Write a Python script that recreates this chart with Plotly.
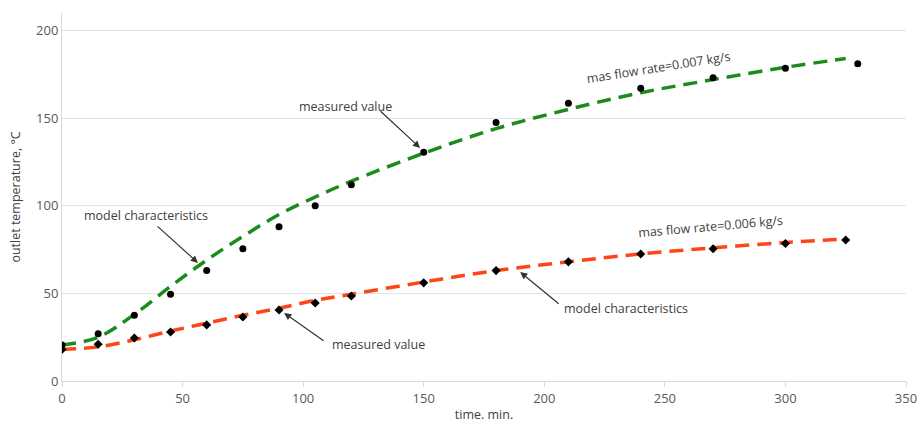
import plotly.graph_objects as go

# measured data, mass flow 0.007 kg/s
t_meas_007 = [0, 15, 30, 45, 60, 75, 90, 105, 120, 150, 180, 210, 240, 270, 300, 330]
T_meas_007 = [20.5, 27, 37.5, 49.5, 63, 75.5, 88, 100, 112, 130.5, 147.5, 158.5, 167, 173, 178.5, 181]

# model characteristic, mass flow 0.007 kg/s
t_model_007 = [0, 15, 30, 45, 60, 75, 90, 105, 120, 150, 180, 210, 240, 270, 300, 325]
T_model_007 = [20.5, 25, 38, 54, 69, 82.5, 95, 105, 114, 130, 144, 155, 164.5, 172, 179, 184]

# measured data, mass flow 0.006 kg/s
t_meas_006 = [0, 15, 30, 45, 60, 75, 90, 105, 120, 150, 180, 210, 240, 270, 300, 325]
T_meas_006 = [18, 21, 24.5, 28, 32, 36.5, 40.5, 44.5, 48.5, 56, 63, 68, 72.5, 75.5, 78.5, 80.5]

# model characteristic, mass flow 0.006 kg/s
t_model_006 = [0, 15, 30, 45, 60, 75, 90, 105, 120, 150, 180, 210, 240, 270, 300, 325]
T_model_006 = [18, 19.5, 23.5, 28.5, 33, 37.5, 41.5, 46, 49.5, 56.5, 63, 68, 72.5, 76, 79, 81]

x_ticks = [0, 50, 100, 150, 200, 250, 300, 350]
y_ticks = [0, 50, 100, 150, 200]

GREEN = "#1A8C1A"
RED = "#FF4517"
FONT = "Open Sans"
TXT = "#404040"

fig = go.Figure()
fig.add_trace(go.Scatter(x=t_model_007, y=T_model_007, mode="lines", line=dict(color=GREEN, width=3.5, dash="14px,8px", shape="spline"), showlegend=False, hoverinfo="skip"))
fig.add_trace(go.Scatter(x=t_model_006, y=T_model_006, mode="lines", line=dict(color=RED, width=3.5, dash="14px,8px", shape="spline"), showlegend=False, hoverinfo="skip"))
fig.add_trace(go.Scatter(x=t_meas_007, y=T_meas_007, mode="markers", marker=dict(symbol="circle", size=7, color="black"), showlegend=False))
fig.add_trace(go.Scatter(x=t_meas_006, y=T_meas_006, mode="markers", marker=dict(symbol="diamond", size=7, color="black"), showlegend=False))

ann = []
def arrow(hx, hy, tx, ty):
    ann.append(dict(x=hx, y=hy, ax=tx, ay=ty, xref="x", yref="y", axref="x", ayref="y",
                    text="", showarrow=True, arrowhead=2, arrowsize=1.2, arrowwidth=1.2, arrowcolor="#333333"))
def label(x, y, s, angle=0):
    ann.append(dict(x=x, y=y, xref="x", yref="y", text=s, showarrow=False, textangle=angle,
                    font=dict(family=FONT, size=12.5, color=TXT)))

arrow(148.5, 133.0, 131.5, 154.7)
arrow(56.4, 67.4, 39.0, 89.0)
arrow(92.1, 38.8, 109.1, 22.3)
arrow(190.0, 62.2, 206.6, 43.4)
label(117.4, 156.7, "measured value")
label(34.8, 94.2, "model characteristics")
label(131.1, 21.1, "measured value")
label(233.9, 41.1, "model characteristics")
label(247.2, 178.7, "mas flow rate=0.007 kg/s", -9)
label(268.8, 87.9, "mas flow rate=0.006 kg/s", -5)

fig.update_layout(
    width=917, height=423,
    margin=dict(l=62, r=11, t=13, b=42),
    paper_bgcolor="white", plot_bgcolor="white",
    font=dict(family=FONT, size=12, color="#595959"),
    annotations=ann,
    xaxis=dict(range=[0, 350], tickvals=x_ticks, showgrid=False, zeroline=False, automargin=False,
               ticklabeloverflow="allow",
               showline=True, linecolor="#D9D9D9", linewidth=1, ticks="outside", ticklen=5, tickcolor="#D9D9D9",
               title=dict(text="time. min.", font=dict(size=12.5, color=TXT), standoff=6),
               tickfont=dict(size=13, color="#595959")),
    yaxis=dict(range=[0, 210], tickvals=y_ticks, showgrid=True, gridcolor="#E3E3E3", zeroline=False, automargin=False,
               showline=True, linecolor="#D9D9D9", linewidth=1,
               title=dict(text="outlet temperature, °C", font=dict(size=12.5, color=TXT), standoff=12),
               tickfont=dict(size=13, color="#595959")),
)
fig.write_html("out.html")
